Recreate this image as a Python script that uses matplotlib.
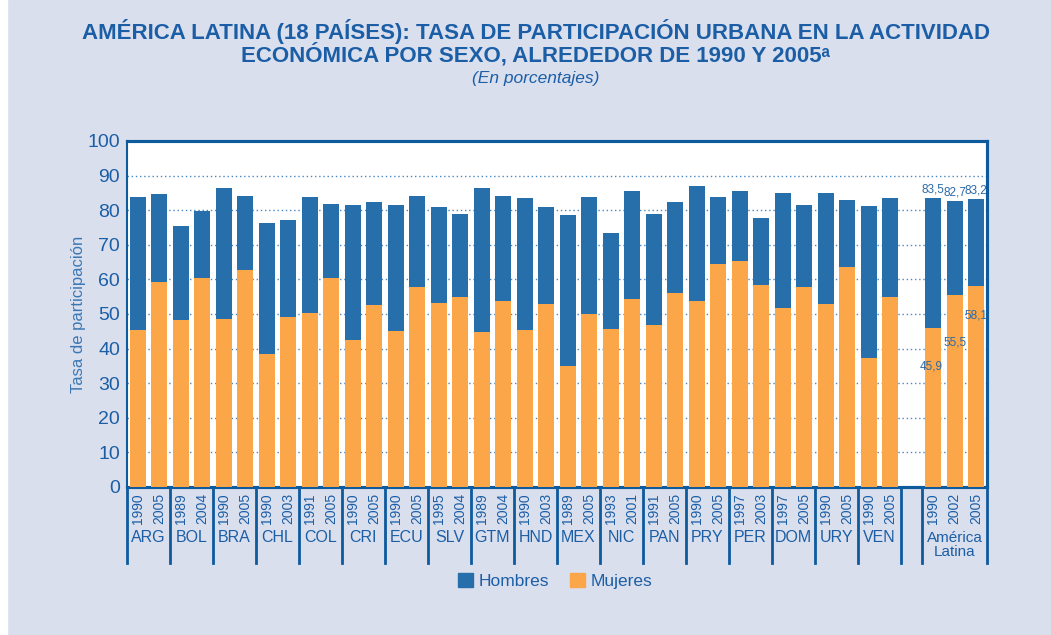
import numpy as np
import matplotlib.pyplot as plt
from matplotlib.patches import Patch
from matplotlib.transforms import blended_transform_factory

# data
paises = ['ARG', 'BOL', 'BRA', 'CHL', 'COL', 'CRI', 'ECU', 'SLV', 'GTM', 'HND',
          'MEX', 'NIC', 'PAN', 'PRY', 'PER', 'DOM', 'URY', 'VEN', 'América\nLatina']
anios = [['1990', '2005'], ['1989', '2004'], ['1990', '2005'], ['1990', '2003'],
         ['1991', '2005'], ['1990', '2005'], ['1990', '2005'], ['1995', '2004'],
         ['1989', '2004'], ['1990', '2003'], ['1989', '2005'], ['1993', '2001'],
         ['1991', '2005'], ['1990', '2005'], ['1997', '2003'], ['1997', '2005'],
         ['1990', '2005'], ['1990', '2005'], ['1990', '2002', '2005']]
hombres = [83.9, 84.8, 75.3, 79.9, 86.5, 84.2, 76.4, 77.3, 83.7, 81.9,
           81.6, 82.5, 81.6, 84.2, 80.8, 78.8, 86.5, 84.2, 83.4, 80.8,
           78.5, 83.7, 73.3, 85.4, 78.8, 82.5, 87.1, 83.9, 85.4, 77.6,
           85.1, 81.6, 85.1, 82.8, 81.1, 83.4, 83.5, 82.7, 83.2]
mujeres = [45.3, 59.1, 48.2, 60.3, 48.5, 62.6, 38.4, 49.0, 50.2, 60.3,
           42.4, 52.5, 45.0, 57.7, 53.1, 54.8, 44.7, 53.7, 45.3, 52.8,
           34.9, 49.9, 45.6, 54.2, 46.7, 56.0, 53.7, 64.3, 65.2, 58.3,
           51.6, 57.7, 52.8, 63.5, 37.2, 54.8, 45.9, 55.5, 58.1]

azul = '#276fab'
naranja = '#fba649'
texto = '#1b5ea6'
borde = '#0d5a9c'
fondo = '#dadfee'

plt.rcParams['font.family'] = ['Liberation Sans', 'DejaVu Sans']

# x positions: pairs side by side, one empty slot before America Latina
pos = []
seps = [-0.5]
x = 0
for i, a in enumerate(anios):
    if i == len(anios) - 1:
        x += 1
        seps.append(x - 0.5)
    for _ in a:
        pos.append(x)
        x += 1
    seps.append(x - 0.5)
pos = np.array(pos)

fig = plt.figure(figsize=(10.51, 6.35), dpi=100, facecolor=fondo)
fig.patches.append(plt.Rectangle((0, 0), 7 / 1051, 1, transform=fig.transFigure,
                                 color='white', zorder=-1))
ax = fig.add_axes([0.1208, 0.2331, 0.8183, 0.5449])
ax.set_facecolor('white')

ax.bar(pos, hombres, width=0.75, color=azul, zorder=2)
ax.bar(pos, mujeres, width=0.75, color=naranja, zorder=3)

ax.set_xlim(-0.5, pos[-1] + 0.5)
ax.set_ylim(0, 100)
ax.set_yticks(np.arange(0, 101, 10))
ax.tick_params(axis='y', length=0, labelsize=14, labelcolor=texto, pad=5)
ax.set_xticks([])
for y in range(10, 100, 10):
    ax.axhline(y, color='#4a86c0', lw=1.0, ls=(0, (1, 2)), zorder=1)
for s, w in zip(['left', 'top', 'right', 'bottom'], [2, 3, 3, 3]):
    ax.spines[s].set_color(borde)
    ax.spines[s].set_linewidth(w * 0.75)
ax.set_ylabel('Tasa de participación', fontsize=12, color='#3a78b5', labelpad=1)

# label table under the axis
tr = blended_transform_factory(ax.transData, ax.transAxes)
for s in seps:
    ax.plot([s, s], [0, -0.22], transform=tr, color=borde, lw=2, clip_on=False)
k = 0
for p, a in zip(paises, anios):
    xs = pos[k:k + len(a)]
    for xx, yr in zip(xs, a):
        ax.text(xx, -0.062, yr, transform=tr, rotation=90, ha='center', va='center',
                fontsize=10, color=texto)
    if '\n' in p:
        ax.text(xs.mean(), -0.168, p, transform=tr, ha='center', va='center',
                fontsize=11, color=texto, linespacing=0.95)
    else:
        ax.text(xs.mean(), -0.145, p, transform=tr, ha='center', va='center',
                fontsize=11.5, color=texto)
    k += len(a)

# value labels for America Latina
lab_h = ['83,5', '82,7', '83,2']
lab_m = ['45,9', '55,5', '58,1']
bajada = [11, 13.8, 8.4]
for i in range(3):
    j = len(pos) - 3 + i
    ax.text(pos[j], hombres[j] + 0.8, lab_h[i], ha='center', va='bottom',
            fontsize=8.5, color='#2a6aa8', clip_on=False)
    ax.text(pos[j] - (0.1 if i == 0 else 0), mujeres[j] - bajada[i], lab_m[i],
            ha='center', va='center', fontsize=8.5, color='#2a6aa8', zorder=4)

fig.text(0.510, 0.950, 'AMÉRICA LATINA (18 PAÍSES): TASA DE PARTICIPACIÓN URBANA EN LA ACTIVIDAD',
         ha='center', va='center', fontsize=16, fontweight='bold', color=texto)
fig.text(0.510, 0.913, 'ECONÓMICA POR SEXO, ALREDEDOR DE 1990 Y 2005ᵃ',
         ha='center', va='center', fontsize=16, fontweight='bold', color=texto)
fig.text(0.510, 0.877, '(En porcentajes)', ha='center', va='center', fontsize=12.5,
         style='italic', color=texto)

handles = [Patch(color=azul, label='Hombres'), Patch(color=naranja, label='Mujeres')]
leg = fig.legend(handles=handles, loc='center', bbox_to_anchor=(0.528, 0.085), ncol=2,
                 frameon=False, fontsize=12.5, handlelength=0.9, handleheight=0.9,
                 handletextpad=0.3, columnspacing=1.2)
for t in leg.get_texts():
    t.set_color(texto)

fig.savefig('out.png', dpi=100, facecolor=fondo)
